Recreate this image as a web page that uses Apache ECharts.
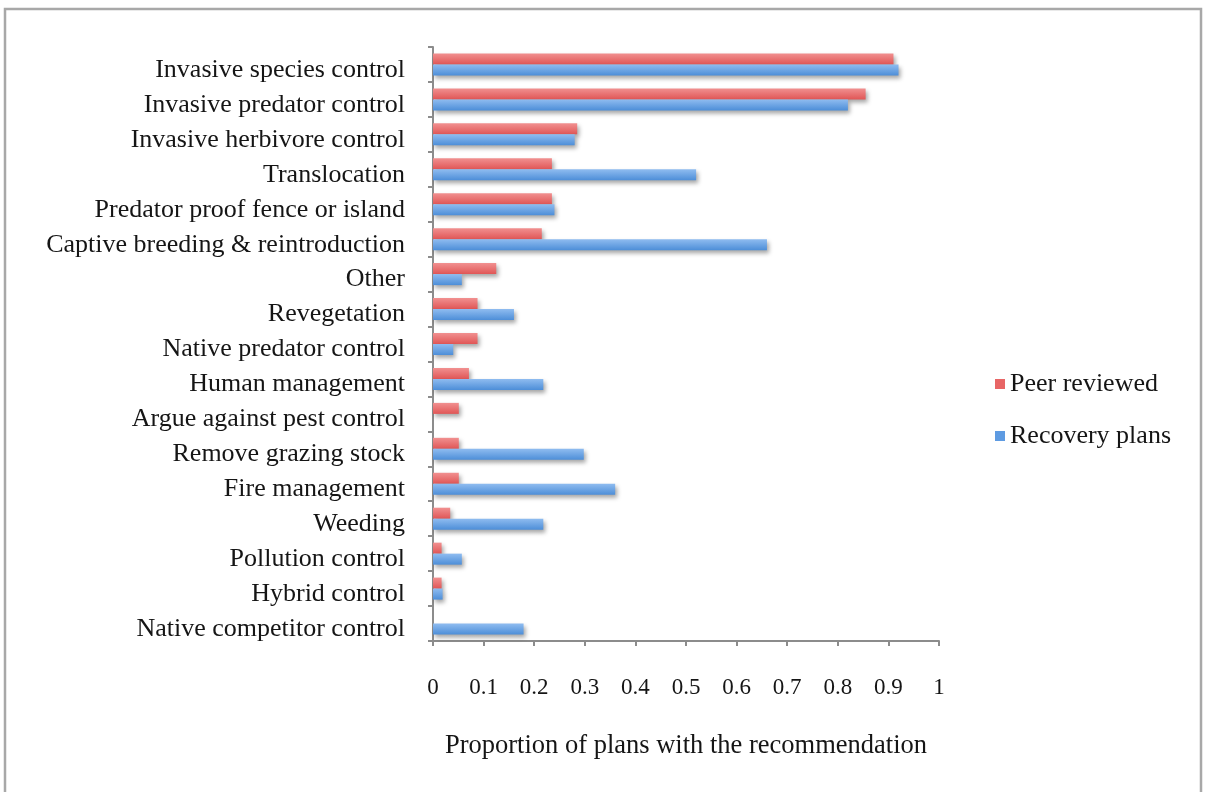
<!DOCTYPE html>
<html>
<head>
<meta charset="utf-8">
<script src="https://cdn.jsdelivr.net/npm/echarts@6/dist/echarts.min.js"></script>
<style>
  html, body { margin: 0; padding: 0; background: #fff; }
  #chart { width: 1207px; height: 792px; }
</style>
</head>
<body>
<div id="chart"></div>
<script>
// Management actions, listed from top to bottom
const categories = [
  'Invasive species control',
  'Invasive predator control',
  'Invasive herbivore control',
  'Translocation',
  'Predator proof fence or island',
  'Captive breeding & reintroduction',
  'Other',
  'Revegetation',
  'Native predator control',
  'Human management',
  'Argue against pest control',
  'Remove grazing stock',
  'Fire management',
  'Weeding',
  'Pollution control',
  'Hybrid control',
  'Native competitor control'
];

// Proportion of papers / plans recommending each action
const peerReviewed = [0.91, 0.855, 0.285, 0.235, 0.235, 0.215, 0.125, 0.088, 0.088, 0.071, 0.051, 0.051, 0.051, 0.034, 0.017, 0.017, 0];
const recoveryPlans = [0.92, 0.82, 0.28, 0.52, 0.24, 0.66, 0.057, 0.16, 0.04, 0.218, 0, 0.298, 0.36, 0.218, 0.057, 0.019, 0.179];

const xTicks = ['0', '0.1', '0.2', '0.3', '0.4', '0.5', '0.6', '0.7', '0.8', '0.9', '1'];

const FONT = '"Liberation Serif", "DejaVu Serif", serif';
const TEXT = '#151515';
const AXIS = '#8c8c8c';

function grad(top, bottom) {
  return new echarts.graphic.LinearGradient(0, 0, 0, 1, [
    { offset: 0, color: top },
    { offset: 1, color: bottom }
  ]);
}

const shadow = {
  shadowColor: 'rgba(0,0,0,0.35)',
  shadowBlur: 4,
  shadowOffsetX: 2,
  shadowOffsetY: 3
};

const chart = echarts.init(document.getElementById('chart'));
chart.setOption({
  backgroundColor: '#fff',
  animation: false,
  graphic: [{
    type: 'rect',
    shape: { x: 5, y: 9, width: 1196, height: 800 },
    style: { fill: 'none', stroke: '#a8a8a8', lineWidth: 2.5 },
    silent: true,
    z: -1
  }],
  grid: { left: 433, right: 268, top: 47, bottom: 151, containLabel: false },
  legend: {
    orient: 'vertical',
    left: 990,
    top: 366,
    itemWidth: 10,
    itemHeight: 10,
    itemGap: 26,
    icon: 'rect',
    textStyle: { fontFamily: FONT, fontSize: 26, color: TEXT, padding: [0, 0, 0, 0] },
    data: [
      { name: 'Peer reviewed', itemStyle: { color: '#e86666' } },
      { name: 'Recovery plans', itemStyle: { color: '#5e9be2' } }
    ]
  },
  xAxis: {
    type: 'value',
    min: 0,
    max: 1,
    interval: 0.1,
    name: 'Proportion of plans with the recommendation',
    nameLocation: 'middle',
    nameGap: 92,
    nameTextStyle: { fontFamily: FONT, fontSize: 26.5, color: TEXT },
    axisLine: { show: true, lineStyle: { color: AXIS, width: 2 } },
    axisTick: { show: true, length: 5, lineStyle: { color: AXIS, width: 2 } },
    splitLine: { show: false },
    axisLabel: {
      margin: 35,
      fontFamily: FONT,
      fontSize: 23,
      color: TEXT,
      formatter: function (v) { return xTicks[Math.round(v * 10)]; }
    }
  },
  yAxis: {
    type: 'category',
    inverse: true,
    data: categories,
    axisLine: { show: true, lineStyle: { color: AXIS, width: 2 } },
    axisTick: { show: true, length: 5, lineStyle: { color: AXIS, width: 2 } },
    axisLabel: {
      margin: 28,
      formatter: function (v) { return '{c|' + v + '}'; },
      rich: {
        c: { fontFamily: FONT, fontSize: 26, color: TEXT, padding: [11, 0, 0, 0] }
      }
    }
  },
  series: [
    {
      name: 'Peer reviewed',
      type: 'bar',
      data: peerReviewed,
      barWidth: 11,
      barGap: '0%',
      itemStyle: Object.assign({ color: grad('#f19090', '#e05656') }, shadow)
    },
    {
      name: 'Recovery plans',
      type: 'bar',
      data: recoveryPlans,
      barWidth: 11,
      barGap: '0%',
      itemStyle: Object.assign({ color: grad('#8fbcf0', '#4d8ed8') }, shadow)
    }
  ]
});
</script>
</body>
</html>
